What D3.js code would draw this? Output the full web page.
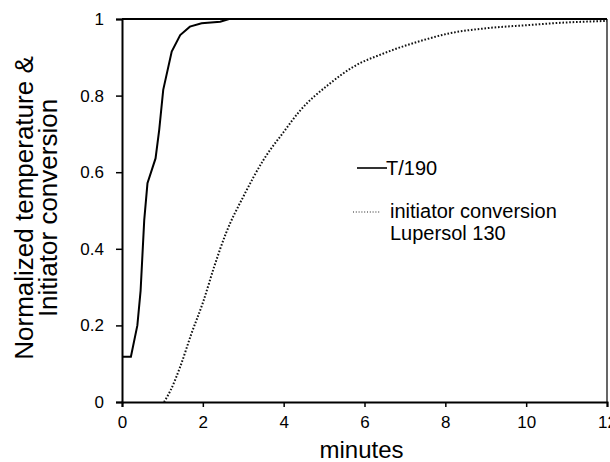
<!DOCTYPE html>
<html>
<head>
<meta charset="utf-8">
<script src="https://cdn.jsdelivr.net/npm/d3@7"></script>
<style>
  body { margin: 0; background: #fff; }
  svg { display: block; font-family: "Liberation Sans", Arial, sans-serif; }
</style>
</head>
<body>
<svg id="chart"></svg>
<script>
// T/190 (normalized temperature)
const tempMinutes = [0, 0.22, 0.38, 0.46, 0.55, 0.63, 0.83, 0.92, 1.02, 1.23, 1.44, 1.68, 1.97, 2.43, 2.65, 12];
const tempValues  = [0.118, 0.118, 0.20, 0.29, 0.475, 0.571, 0.636, 0.71, 0.815, 0.915, 0.958, 0.98, 0.989, 0.993, 1, 1];

// initiator conversion, Lupersol 130
const convMinutes = [1.04, 1.2, 1.44, 1.72, 2.01, 2.28, 2.57, 3.02, 3.5, 4.0, 4.4, 5.15, 5.72, 6.47, 7.46, 8.12, 9.03, 10.02, 10.84, 12];
const convValues  = [0, 0.03, 0.092, 0.179, 0.262, 0.353, 0.44, 0.54, 0.632, 0.705, 0.76, 0.832, 0.875, 0.91, 0.945, 0.963, 0.976, 0.984, 0.99, 0.995];

const xTicks = [0, 2, 4, 6, 8, 10, 12];
const yTicks = [0, 0.2, 0.4, 0.6, 0.8, 1];

const width = 610, height = 462;
const margin = { top: 19, right: 3, bottom: 60, left: 122 };

const svg = d3.select("#chart")
    .attr("width", width)
    .attr("height", height)
    .attr("viewBox", [0, 0, width, height]);

const x = d3.scaleLinear().domain([0, 12]).range([margin.left, width - margin.right]);
const y = d3.scaleLinear().domain([0, 1]).range([height - margin.bottom, margin.top]);

// frame: top and right border
svg.append("line")
    .attr("x1", x(0)).attr("x2", x(12))
    .attr("y1", y(1)).attr("y2", y(1))
    .attr("stroke", "#000").attr("stroke-width", 2);
svg.append("line")
    .attr("x1", x(12)).attr("x2", x(12))
    .attr("y1", y(1)).attr("y2", y(0))
    .attr("stroke", "#000").attr("stroke-width", 1.2);

svg.append("g")
    .attr("transform", `translate(0,${y(0)})`)
    .call(d3.axisBottom(x).tickValues(xTicks).tickSize(5).tickPadding(9).tickFormat(d3.format("d")))
    .call(g => {
        g.select(".domain").attr("stroke-width", 2);
        g.selectAll(".tick line").attr("stroke-width", 1.5);
        g.selectAll("text").attr("font-size", 17).attr("font-family", "Liberation Sans, Arial, sans-serif").attr("fill", "#000");
    });

svg.append("g")
    .attr("transform", `translate(${x(0)},0)`)
    .call(d3.axisLeft(y).tickValues(yTicks).tickSize(6).tickPadding(12).tickFormat(d => d === 0 || d === 1 ? d : d3.format(".1f")(d)))
    .call(g => {
        g.select(".domain").attr("stroke-width", 2);
        g.selectAll(".tick line").attr("stroke-width", 1.5);
        g.selectAll("text").attr("font-size", 17).attr("font-family", "Liberation Sans, Arial, sans-serif").attr("fill", "#000");
    });

const line = d3.line().x(d => x(d[0])).y(d => y(d[1]));

svg.append("path")
    .datum(convMinutes.map((m, i) => [m, convValues[i]]))
    .attr("d", line.curve(d3.curveMonotoneX))
    .attr("fill", "none")
    .attr("stroke", "#111")
    .attr("stroke-width", 2)
    .attr("stroke-dasharray", "1.6 1.8");

svg.append("path")
    .datum(tempMinutes.map((m, i) => [m, tempValues[i]]))
    .attr("d", d3.line().x(d => x(d[0])).y(d => y(d[1])))
    .attr("fill", "none")
    .attr("stroke", "#000")
    .attr("stroke-width", 2);

// legend
svg.append("line")
    .attr("x1", 357).attr("x2", 387).attr("y1", 168).attr("y2", 168)
    .attr("stroke", "#000").attr("stroke-width", 1.6);
svg.append("text")
    .attr("x", 386).attr("y", 175)
    .attr("font-size", 20)
    .text("T/190");

svg.append("line")
    .attr("x1", 353).attr("x2", 381).attr("y1", 212).attr("y2", 212)
    .attr("stroke", "#222").attr("stroke-width", 1.2).attr("stroke-dasharray", "1 1.8");
svg.append("text")
    .attr("x", 390).attr("y", 218)
    .attr("font-size", 20)
    .text("initiator conversion");
svg.append("text")
    .attr("x", 390).attr("y", 240)
    .attr("font-size", 20)
    .text("Lupersol 130");

// axis titles
svg.append("text")
    .attr("x", (x(0) + x(12)) / 2 - 3)
    .attr("y", 458)
    .attr("text-anchor", "middle")
    .attr("font-size", 24)
    .text("minutes");

const yTitle = svg.append("text")
    .attr("transform", `translate(0,208) rotate(-90)`)
    .attr("text-anchor", "middle")
    .attr("font-size", 26);
yTitle.append("tspan").attr("x", 0).attr("y", 33).text("Normalized temperature &");
yTitle.append("tspan").attr("x", 0).attr("y", 57).text("Initiator conversion");
</script>
</body>
</html>
